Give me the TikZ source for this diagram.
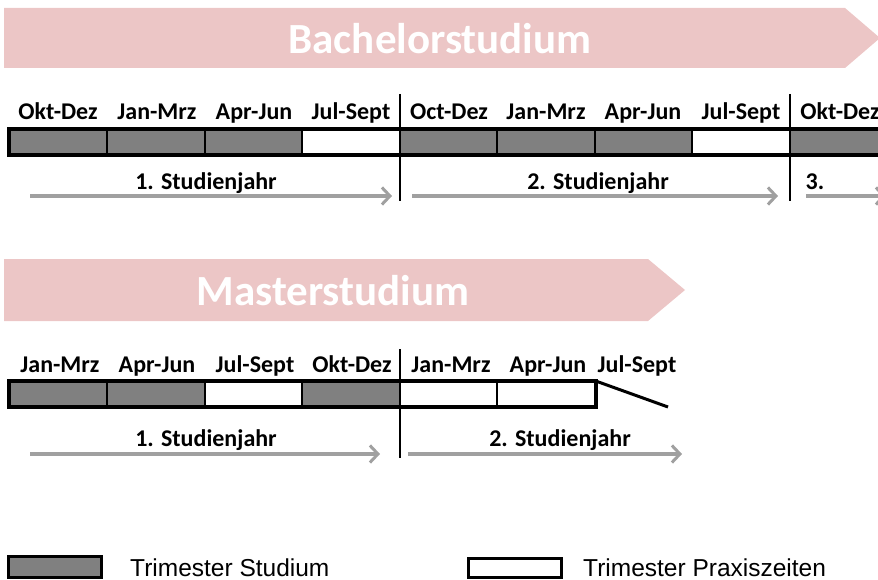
\documentclass[tikz,border=0pt]{standalone}
\usepackage{fontspec}
\setmainfont{Carlito}
\newfontfamily\legendfont{Liberation Sans}
\usetikzlibrary{arrows.meta,positioning}
\definecolor{bannerpink}{RGB}{236,198,198}
\definecolor{cellgray}{RGB}{128,128,128}
\definecolor{arrowgray}{RGB}{160,160,160}
\tikzset{
  studcell/.style={draw=black, line width=2pt, fill=cellgray, minimum width=97.5pt, minimum height=24pt, inner sep=0pt},
  praxcell/.style={studcell, fill=white},
  trimlabel/.style={font=\fontsize{24}{26}\selectfont\bfseries, inner sep=0pt, anchor=base},
  yearlabel/.style={font=\fontsize{24}{26}\selectfont\bfseries, inner sep=0pt, anchor=base},
  yeararrow/.style={draw=arrowgray, line width=3.5pt, -{Straight Barb[length=8pt,width=17pt,line width=3pt]}},
  divider/.style={draw=black, line width=2.8pt},
  banner/.style={fill=bannerpink, draw=none},
  bannertext/.style={text=white, font=\fontsize{43}{46}\selectfont\bfseries, anchor=base},
  legendtext/.style={font=\legendfont\fontsize{24.5}{26}\selectfont, anchor=base west, inner sep=0pt}
}

\begin{document}
\begin{tikzpicture}[x=1pt, y=-1pt]
            \useasboundingbox (0,0) rectangle (878,580);

            % Bachelor
            \fill[banner] (4,8) -- (845,8) -- (880,38) -- (845,68) -- (4,68) -- cycle;
            \node[bannertext] (bachelor) at (440,54) {Bachelorstudium};

            \node[trimlabel] (bl1) at (58,120) {Okt-Dez};
            \node[trimlabel] (bl2) at (157,120) {Jan-Mrz};
            \node[trimlabel] (bl3) at (254,120) {Apr-Jun};
            \node[trimlabel] (bl4) at (351,120) {Jul-Sept};
            \node[trimlabel] (bl5) at (449,120) {Oct-Dez};
            \node[trimlabel] (bl6) at (546,120) {Jan-Mrz};
            \node[trimlabel] (bl7) at (643,120) {Apr-Jun};
            \node[trimlabel] (bl8) at (741,120) {Jul-Sept};
            \node[trimlabel] (bl9) at (840,120) {Okt-Dez};

            \node[studcell] (b1) at (58.5,142) {};
            \node[studcell] (b2) at (156,142) {};
            \node[studcell] (b3) at (253.5,142) {};
            \node[praxcell] (b4) at (351,142) {};
            \node[studcell] (b5) at (448.5,142) {};
            \node[studcell] (b6) at (546,142) {};
            \node[studcell] (b7) at (643.5,142) {};
            \node[praxcell] (b8) at (741,142) {};
            \node[studcell] (b9) at (838.5,142) {};
            \draw[line width=3.5pt] (b1.north west) rectangle (b9.south east);

            \coordinate (bd1top) at (400,94);
            \coordinate (bd1bot) at (400,201);
            \coordinate (bd2top) at (790,94);
            \coordinate (bd2bot) at (790,201);
            \draw[divider] (bd1top) -- (bd1bot);
            \draw[divider] (bd2top) -- (bd2bot);

            \coordinate (ba1s) at (30,196);
            \coordinate (ba1e) at (392,196);
            \coordinate (ba2s) at (412,196);
            \coordinate (ba2e) at (778,196);
            \coordinate (ba3s) at (806,196);
            \coordinate (ba3e) at (886,196);
            \draw[yeararrow] (ba1s) -- (ba1e);
            \draw[yeararrow] (ba2s) -- (ba2e);
            \draw[yeararrow] (ba3s) -- (ba3e);
            \node[yearlabel] (by1) at (206,190) {1. Studienjahr};
            \node[yearlabel] (by2) at (598,190) {2. Studienjahr};
            \node[yearlabel] (by3) at (815,190) {3.};

            % Master
            \fill[banner] (4,259) -- (648,259) -- (685,290) -- (648,321) -- (4,321) -- cycle;
            \node[bannertext] (master) at (333,305) {Masterstudium};

            \node[trimlabel] (ml1) at (60,372) {Jan-Mrz};
            \node[trimlabel] (ml2) at (157,372) {Apr-Jun};
            \node[trimlabel] (ml3) at (255,372) {Jul-Sept};
            \node[trimlabel] (ml4) at (352,372) {Okt-Dez};
            \node[trimlabel] (ml5) at (451,372) {Jan-Mrz};
            \node[trimlabel] (ml6) at (548,372) {Apr-Jun};
            \node[trimlabel] (ml7) at (637,372) {Jul-Sept};

            \node[studcell] (m1) at (58.5,394) {};
            \node[studcell] (m2) at (156,394) {};
            \node[praxcell] (m3) at (253.5,394) {};
            \node[studcell] (m4) at (351,394) {};
            \node[praxcell] (m5) at (448.5,394) {};
            \node[praxcell] (m6) at (546,394) {};
            \draw[line width=3.5pt] (m1.north west) rectangle (m6.south east);
            \coordinate (slantend) at (668,407);
            \draw[line width=3pt] (m6.north east) -- (slantend);

            \coordinate (mdtop) at (400,349);
            \coordinate (mdbot) at (400,458);
            \draw[divider] (mdtop) -- (mdbot);

            \coordinate (ma1s) at (30,454);
            \coordinate (ma1e) at (380,454);
            \coordinate (ma2s) at (408,454);
            \coordinate (ma2e) at (682,454);
            \draw[yeararrow] (ma1s) -- (ma1e);
            \draw[yeararrow] (ma2s) -- (ma2e);
            \node[yearlabel] (my1) at (206,446) {1. Studienjahr};
            \node[yearlabel] (my2) at (560,446) {2. Studienjahr};

            % Legende
            \node[studcell, minimum width=93pt, minimum height=21pt, line width=3pt] (legstud) at (55,567) {};
            \node[legendtext] (legstudtext) at (130,576) {Trimester Studium};
            \node[praxcell, minimum width=93pt, minimum height=19pt, line width=3pt] (legprax) at (515,568) {};
            \node[legendtext] (legpraxtext) at (583,576) {Trimester Praxiszeiten};

        \end{tikzpicture}
\end{document}
